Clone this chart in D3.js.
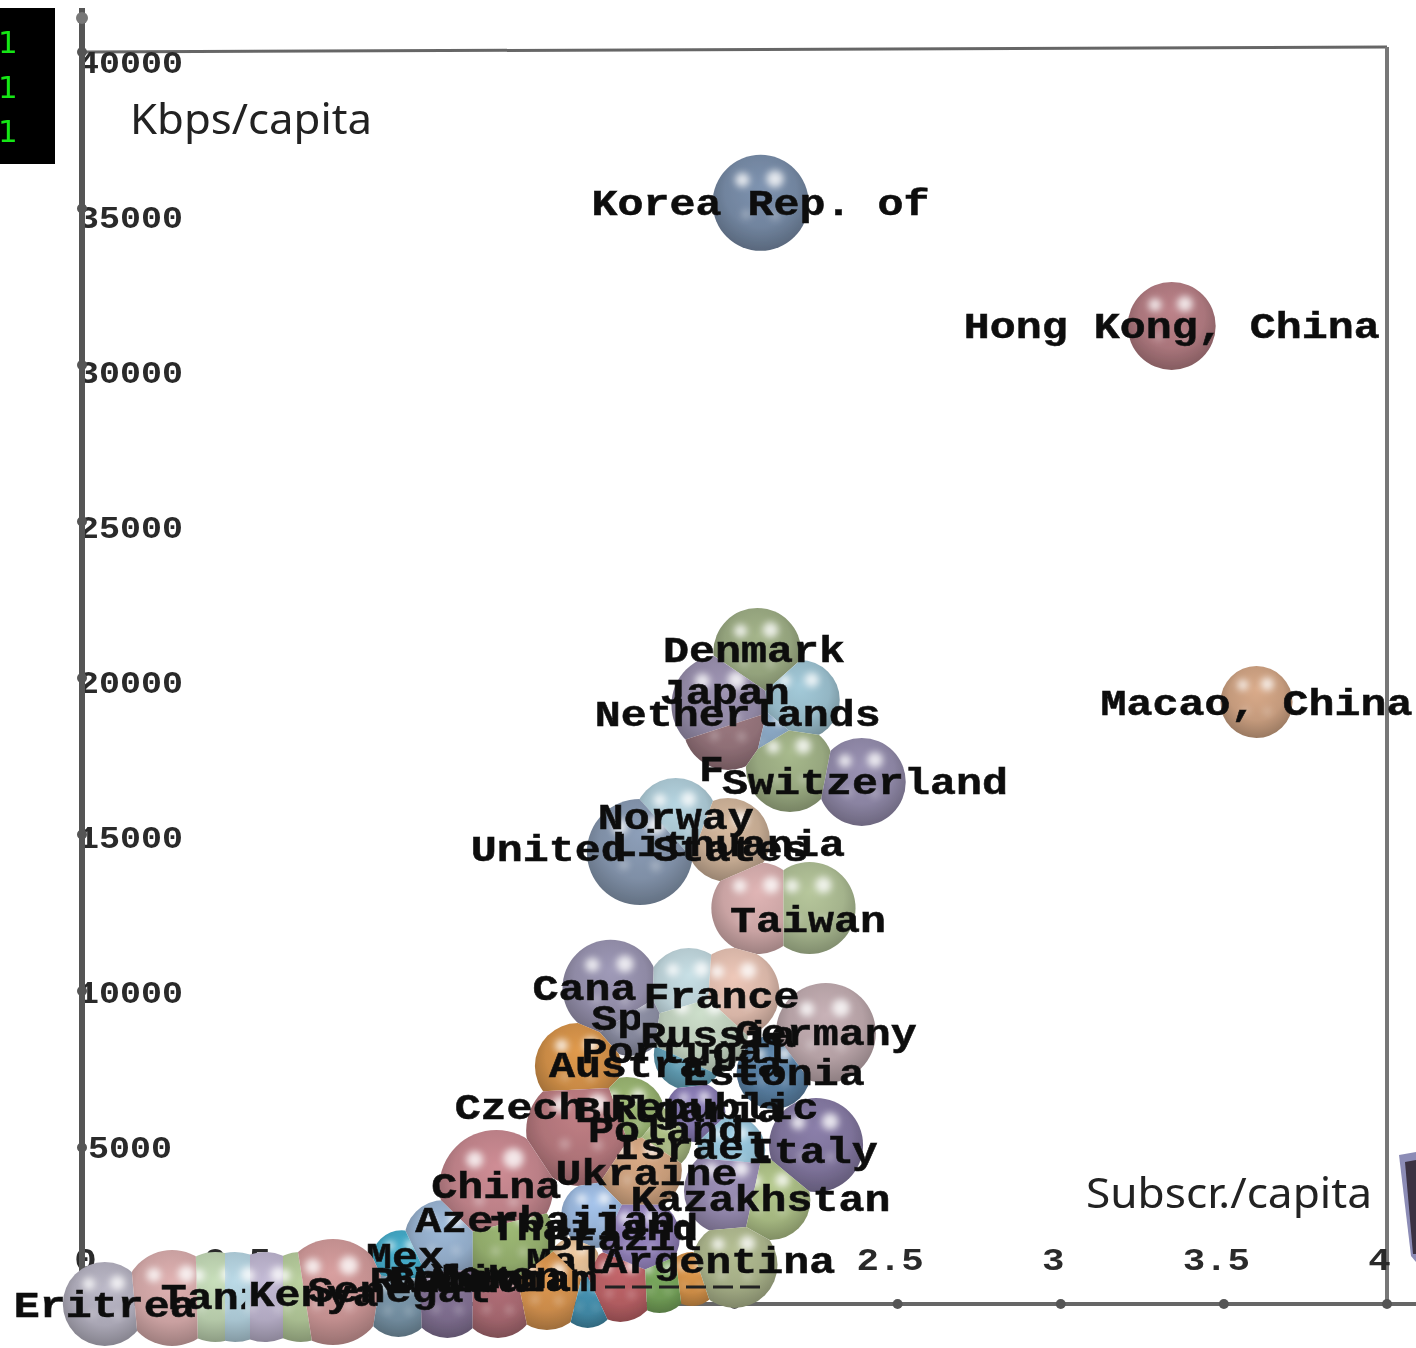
<!DOCTYPE html>
<html>
<head>
<meta charset="utf-8">
<title>Kbps per capita vs subscriptions per capita</title>
<script src="https://cdn.jsdelivr.net/npm/d3@7"></script>
<style>
  html, body { margin: 0; padding: 0; background: #fff; }
  svg { display: block; }
  .country { font-family: "Liberation Mono", monospace; font-weight: bold; font-size: 36px; fill: #111; stroke: #111; stroke-width: 0.5px; }
  .tick text { font-family: "Liberation Mono", monospace; font-weight: bold; font-size: 31px; fill: #2a2a2a; }
  .unit { font-family: "Noto Sans", "Open Sans", sans-serif; font-size: 42px; fill: #222; }
</style>
</head>
<body>
<svg id="chart" width="1416" height="1348"></svg>
<script>
// values. A name is drawn right after its sphere if it is in
// hiddenLabels, so the spheres listed after it can cover it
var countries = ["Korea Rep. of", "Hong Kong, China", "Macao, China",
    "Denmark", "Japan", "Sweden", "Netherlands", "Finland", "Iceland", "Switzerland",
    "Norway", "United States", "Lithuania", "Belgium", "Taiwan",
    "Canada", "UK", "France", "Spain", "Russia", "Germany", "Portugal", "Australia", "Estonia",
    "Czech Republic", "Bulgaria", "Slovakia", "Poland", "Italy", "Israel", "Ukraine", "China", "Turkey", "Kazakhstan", "Greece",
    "Azerbaijan", "Mexico", "South Africa", "Thailand", "Malaysia", "Brazil", "Chile", "Peru", "Argentina",
    "Eritrea", "Zambia", "Ghana", "Tanzania", "Uganda", "Mali", "Kenya", "Senegal", "Rwanda", "Bolivia", "Yemen", "Vietnam", "Cuba"];
var subscr = [2.08, 3.34, 3.60,
    2.07, 1.96, 2.20, 1.98, 2.11, 2.17, 2.39,
    1.82, 1.71, 1.98, 2.07, 2.23,
    1.62, 1.86, 2.00, 1.68, 1.895, 2.28, 1.86, 1.52, 2.12,
    1.53, 1.67, 1.88, 1.77, 2.25, 1.99, 1.71, 1.27, 1.98, 2.11, 1.57,
    1.11, 0.98, 1.51, 1.31, 1.65, 1.71, 1.87, 1.77, 2.00,
    0.07, 0.408, 0.469, 0.276, 0.561, 0.671, 0.769, 0.97, 1.12, 1.275, 1.425, 1.55, 1.87];
var kbps = [35180, 31250, 19230,
    20830, 19140, 19300, 18500, 18180, 17125, 16680,
    15460, 14440, 14825, 12650, 12650,
    10100, 10030, 9935, 9075, 8755, 8660, 7955, 7600, 7410,
    5530, 6040, 6135, 5240, 5080, 4920, 4280, 3740, 3620, 3320, 2845,
    2045, 1400, 1340, 2045, 610, 2140, 800, 670, 1250,
    0, 224, 224, 192, 224, 224, 383, 64, 128, 128, 448, 128, 768];
var bubbleSize = [48, 44, 36,
    44, 50, 40, 45, 30, 44, 44,
    42, 53, 42, 46, 46,
    48, 42, 45, 36, 48, 50, 35, 43, 37,
    55, 38, 30, 32, 47, 34, 42, 57, 44, 40, 33,
    40, 30, 25, 46, 37, 40, 27, 30, 43,
    42, 45, 45, 48, 45, 45, 53, 35, 38, 38, 40, 28, 0];
// where each name sits, in axis units (the names do not always sit on their sphere)
var labelSubscr = [2.08, 3.34, 3.60,
    2.06, 1.97, null, 2.01, 2.17, null, 2.40,
    1.82, 1.71, 1.98, null, 2.225,
    1.62, null, 1.96, 1.76, 1.95, 2.28, 1.85, 1.79, 2.12,
    1.70, 1.83, null, 1.79, 2.24, 1.87, 1.73, 1.27, null, 2.08, null,
    1.42, 1.11, 1.64, 1.57, 1.68, 1.66, null, null, 1.95,
    0.07, null, null, 0.56, null, null, 0.71, 0.97, 1.12, 1.22, 1.27, 1.30, 1.10];
var labelKbps = [35180, 31250, 19230,
    20900, 19553, null, 18850, 17120, null, 16680,
    15560, 14540, 14700, null, 12270,
    10100, null, 9870, 9140, 8600, 8660, 8115, 7636, 7410,
    6295, 6200, null, 5560, 4920, 5016, 4215, 3800, null, 3380, null,
    2684, 1565, 800, 2430, 1375, 2140, null, null, 1375,
    0, null, null, 224, null, null, 320, 448, 770, 800, 900, 830, 770];
var sphereColors = ["#71849e", "#a9757b", "#c49a7c",
    "#93a27c", "#8f86a2", "#93b6c4", "#8f6f76", "#7f9ab4", "#97a77f", "#8a83a1",
    "#a4c0cb", "#7f8fa6", "#c2a890", "#c9a3a3", "#a4b38c",
    "#8f8aa5", "#b4c9cf", "#d6b4a6", "#84869a", "#b8c8b6", "#b4a0a4", "#5f9ab0", "#c98a45", "#557a9c",
    "#ae7378", "#8fa86a", "#7f72a8", "#9fb07a", "#7d7299", "#8fbbd0", "#c49a78", "#ba7f86", "#8f84a8", "#a3b57f", "#94b0d4",
    "#8fa8c4", "#3f9fbb", "#d8b48c", "#8fa86a", "#b05c60", "#8a7ab0", "#c98a45", "#6f9a55", "#a3ac85",
    "#a9a6b4", "#b4c8a8", "#a8c4d0", "#c9a0a0", "#b0a8c0", "#a8bc90", "#c28f8f", "#708a9c", "#7a6a8a", "#a0646c", "#c98a4a", "#3f84a0", "#c98a4a"];
// names that are only partly visible, and the subscr. value where they vanish
var hiddenLabels = ["Finland", "Canada", "Spain", "Mexico", "Malaysia", "Tanzania", "South Africa"];
var hiddenFrom = [1.96, 1.70, 1.71, 1.12, 1.60, 0.50, 1.56];
var xTicks = [0, 0.5, 1, 1.5, 2, 2.5, 3, 3.5, 4];
var yTicks = [5000, 10000, 15000, 20000, 25000, 30000, 35000, 40000];
var unitLabels = ["Kbps/capita", "Subscr./capita"];
var corner = ["1", "1", "1"];

var svg = d3.select("#chart");
var x = d3.scaleLinear().domain([0, 4]).range([82, 1387]);
var y = d3.scaleLinear().domain([0, 40000]).range([1304, 52]);
// the y tick names drift away from their ticks towards the top of the picture
var yName = d3.scaleLinear().domain([5000, 40000]).range([1148, 63]);
var r = d3.scaleLinear().domain([0, 100]).range([0, 100]);

var defs = svg.append("defs");
defs.append("filter").attr("id", "soft")
    .attr("x", "-100%").attr("y", "-100%").attr("width", "300%").attr("height", "300%")
    .append("feGaussianBlur").attr("stdDeviation", 3.5);
defs.append("filter").attr("id", "jpeg").attr("filterUnits", "userSpaceOnUse")
    .attr("x", 0).attr("y", 0).attr("width", 1416).attr("height", 1348)
    .append("feGaussianBlur").attr("stdDeviation", 0.7);

sphereColors.forEach(function(c, i) {
    var g = defs.append("radialGradient").attr("id", "ball" + i)
        .attr("cx", 0.5).attr("cy", 0.42).attr("r", 0.62).attr("fx", 0.5).attr("fy", 0.32);
    g.append("stop").attr("offset", "0%").attr("stop-color", d3.color(c).brighter(0.3));
    g.append("stop").attr("offset", "60%").attr("stop-color", c);
    g.append("stop").attr("offset", "100%").attr("stop-color", d3.color(c).darker(0.8));
});

hiddenLabels.forEach(function(name, i) {
    defs.append("clipPath").attr("id", "cut" + i).append("rect")
        .attr("x", 0).attr("y", 0).attr("width", x(hiddenFrom[i])).attr("height", 1348);
});

function stretched(sel) {
    // the names are wider than the mono face, so stretch them
    sel.attr("text-anchor", "middle")
        .attr("dominant-baseline", "central")
        .attr("dy", 3)
        .attr("textLength", function(d) { return d.name.length * 26; })
        .attr("lengthAdjust", "spacingAndGlyphs");
}

var scene = svg.append("g").attr("filter", "url(#jpeg)");

// black corner strip
scene.append("rect").attr("x", 0).attr("y", 8).attr("width", 55).attr("height", 156).attr("fill", "#000");
scene.selectAll(".corner").data(corner).enter().append("text")
    .attr("class", "corner")
    .attr("x", -2)
    .attr("y", function(d, i) { return 53 + i * 44.5; })
    .attr("font-family", "DejaVu Sans")
    .attr("font-size", 31)
    .attr("fill", "#12e612")
    .text(function(d) { return d; });

// frame
scene.append("line").attr("x1", x(0)).attr("y1", y(40000)).attr("x2", x(4)).attr("y2", 47)
    .attr("stroke", "#666").attr("stroke-width", 3);
scene.append("line").attr("x1", x(4)).attr("y1", 47).attr("x2", x(4)).attr("y2", y(0))
    .attr("stroke", "#777").attr("stroke-width", 4);

// axes
var yAxis = d3.axisLeft(y).tickValues(yTicks).tickSize(0).tickFormat(d3.format("d"));
var gy = scene.append("g").attr("transform", "translate(" + x(0) + ",0)").call(yAxis);
gy.select(".domain").remove();
gy.selectAll(".tick text")
    .attr("text-anchor", "end")
    .attr("x", function(d) { return d < 10000 ? 90 : 101; })
    .attr("dy", "0.32em")
    .attr("textLength", function(d) { return String(d).length * 21; })
    .attr("lengthAdjust", "spacingAndGlyphs")
    .attr("transform", function(d) { return "translate(0," + (yName(d) - y(d)) + ")"; });

var xAxis = d3.axisBottom(x).tickValues(xTicks).tickSize(0).tickFormat(function(d) { return String(d); });
var gx = scene.append("g").attr("transform", "translate(0," + y(0) + ")").call(xAxis);
gx.select(".domain").remove();
gx.selectAll(".tick text")
    .attr("text-anchor", "middle")
    .attr("y", -44)
    .attr("dy", "0.32em")
    .attr("dx", function(d) { return d === 0 ? 3 : -8; })
    .attr("textLength", function(d) { return String(d).length * 22.5; })
    .attr("lengthAdjust", "spacingAndGlyphs");

scene.append("line").attr("x1", x(0)).attr("y1", 8).attr("x2", x(0)).attr("y2", y(0))
    .attr("stroke", "#555").attr("stroke-width", 6);
scene.append("line").attr("x1", x(0)).attr("y1", y(0)).attr("x2", 1416).attr("y2", y(0))
    .attr("stroke", "#666").attr("stroke-width", 4);

// tick knobs
scene.selectAll(".knobx").data(xTicks).enter().append("circle")
    .attr("cx", function(d) { return x(d); }).attr("cy", y(0)).attr("r", 5).attr("fill", "#555");
scene.selectAll(".knoby").data(yTicks).enter().append("circle")
    .attr("cx", x(0)).attr("cy", function(d) { return y(d); }).attr("r", 5).attr("fill", "#555");
scene.append("circle").attr("cx", x(0)).attr("cy", 18).attr("r", 6).attr("fill", "#777");

// spheres and names
var rows = countries.map(function(name, i) {
    return {
        name: name,
        i: i,
        cx: x(subscr[i]),
        cy: y(kbps[i]),
        rad: r(bubbleSize[i]),
        lx: labelSubscr[i],
        ly: labelKbps[i]
    };
});

// Spheres all lie in one plane, so two of them meet along a straight line (radical axis).
// Cut each disc down to the part of the picture where it is the nearest surface.
function cell(d) {
    var m = d.rad + 2;
    var poly = [[d.cx - m, d.cy - m], [d.cx + m, d.cy - m], [d.cx + m, d.cy + m], [d.cx - m, d.cy + m]];
    rows.forEach(function(o) {
        if (o === d || o.rad === 0) return;
        if (Math.hypot(o.cx - d.cx, o.cy - d.cy) >= o.rad + d.rad) return;
        var a = 2 * (o.cx - d.cx), b = 2 * (o.cy - d.cy);
        var c = o.cx * o.cx + o.cy * o.cy - o.rad * o.rad - d.cx * d.cx - d.cy * d.cy + d.rad * d.rad;
        var out = [];
        poly.forEach(function(p, k) {
            var q = poly[(k + 1) % poly.length];
            var fp = a * p[0] + b * p[1] - c, fq = a * q[0] + b * q[1] - c;
            if (fp <= 0) out.push(p);
            if ((fp < 0 && fq > 0) || (fp > 0 && fq < 0)) {
                var t = fp / (fp - fq);
                out.push([p[0] + t * (q[0] - p[0]), p[1] + t * (q[1] - p[1])]);
            }
        });
        poly = out;
    });
    return poly;
}

var balls = scene.append("g");
rows.forEach(function(d) {
    if (d.rad > 0) {
        var poly = cell(d);
        defs.append("clipPath").attr("id", "cell" + d.i).append("polygon")
            .attr("points", poly.map(function(p) { return p.join(","); }).join(" "));
        var g = balls.append("g").attr("clip-path", "url(#cell" + d.i + ")");
        g.append("circle").attr("cx", d.cx).attr("cy", d.cy).attr("r", d.rad)
            .attr("fill", "url(#ball" + d.i + ")");
        [[-0.38, -0.48, 0.15], [0.3, -0.5, 0.18], [-0.3, 0.24, 0.1], [0.3, 0.26, 0.1]].forEach(function(s) {
            g.append("circle")
                .attr("cx", d.cx + s[0] * d.rad).attr("cy", d.cy + s[1] * d.rad).attr("r", s[2] * d.rad)
                .attr("fill", "#fff").attr("opacity", s[1] < 0 ? 0.8 : 0.3)
                .attr("filter", "url(#soft)");
        });
    }
    var h = hiddenLabels.indexOf(d.name);
    if (d.lx !== null && h >= 0) {
        balls.append("g").attr("clip-path", "url(#cut" + h + ")")
            .append("text").datum(d).attr("class", "country")
            .attr("x", x(d.lx)).attr("y", y(d.ly)).call(stretched).text(d.name);
    }
});

scene.append("g").selectAll("text")
    .data(rows.filter(function(d) { return d.lx !== null && hiddenLabels.indexOf(d.name) < 0; }))
    .enter().append("text")
    .attr("class", "country")
    .attr("x", function(d) { return x(d.lx); })
    .attr("y", function(d) { return y(d.ly); })
    .call(stretched)
    .text(function(d) { return d.name; });

// broken rule left under the Argentina sphere
scene.append("line").attr("x1", 605).attr("y1", 1287).attr("x2", 762).attr("y2", 1287)
    .attr("stroke", "#222").attr("stroke-width", 3).attr("stroke-dasharray", "20 7");

// unit captions
scene.append("text").attr("class", "unit").attr("x", 130).attr("y", 134)
    .attr("textLength", 242).attr("lengthAdjust", "spacingAndGlyphs").text(unitLabels[0]);
scene.append("text").attr("class", "unit").attr("x", 1086).attr("y", 1208)
    .attr("textLength", 286).attr("lengthAdjust", "spacingAndGlyphs").text(unitLabels[1]);

// edge of the picture pasted next to the chart
scene.append("polygon").attr("points", "1399,1155 1416,1152 1416,1262 1411,1256").attr("fill", "#8c8cb6");
scene.append("polygon").attr("points", "1405,1162 1416,1160 1416,1254 1413,1254").attr("fill", "#3b3242");
</script>
</body>
</html>
